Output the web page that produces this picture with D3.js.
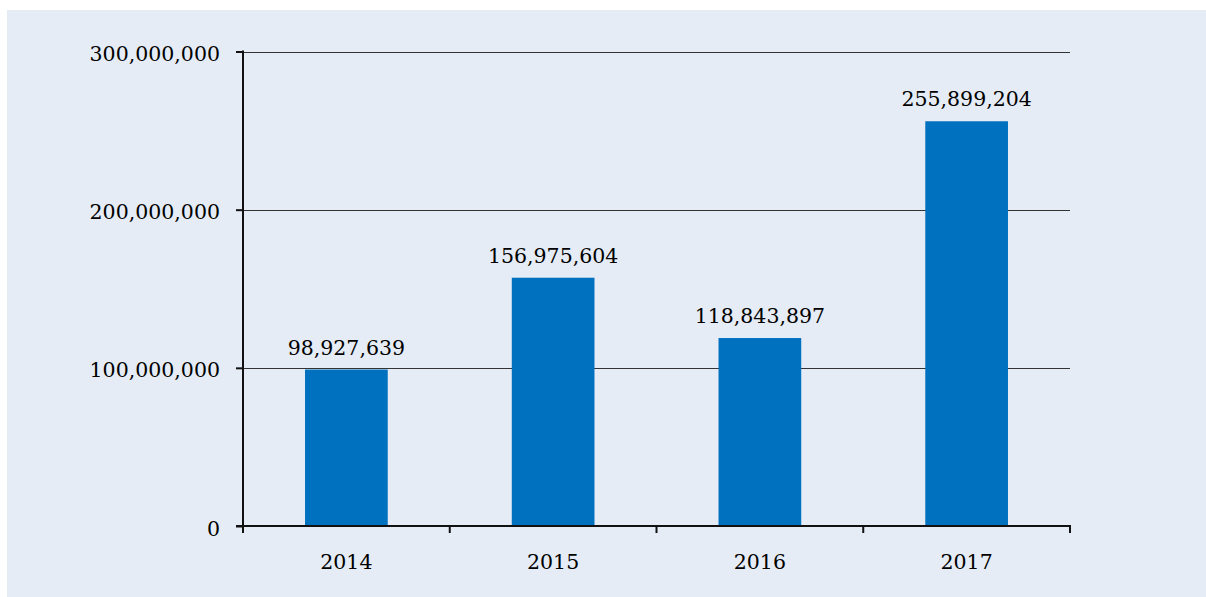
<!DOCTYPE html>
<html lang="en">
<head>
    <meta charset="UTF-8">
    <title>Chart</title>
    <script src="https://cdn.jsdelivr.net/npm/d3@7/dist/d3.min.js"></script>
    <style>
        body {
            margin: 0;
            padding: 0;
            background: #fff;
        }
        text {
            font-family: "DejaVu Serif", Georgia, serif;
            font-size: 20.5px;
            fill: #000;
        }
    </style>
</head>
<body>
<svg width="1206" height="597"></svg>
<script>
    // data
    var years = ['2014', '2015', '2016', '2017'];
    var values = [98927639, 156975604, 118843897, 255899204];
    var yTicks = [0, 100000000, 200000000, 300000000];

    var svg = d3.select('svg');
    var plotLeft = 243, plotRight = 1070, plotTop = 51.5, plotBottom = 526;

    svg.append('rect')
        .attr('x', 7).attr('y', 10)
        .attr('width', 1199).attr('height', 587)
        .attr('fill', '#e5ecf5');

    var x = d3.scaleBand().domain(years).range([plotLeft, plotRight]).padding(0);
    var y = d3.scaleLinear().domain([0, 300000000]).range([plotBottom, plotTop]);
    var fmt = d3.format(',');

    // gridlines
    svg.selectAll('.grid').data(yTicks.slice(1)).enter().append('line')
        .attr('x1', plotLeft).attr('x2', plotRight)
        .attr('y1', function (d) { return Math.round(y(d)) + 0.5; })
        .attr('y2', function (d) { return Math.round(y(d)) + 0.5; })
        .attr('stroke', '#333').attr('stroke-width', 1.2);

    // bars
    var bw = x.bandwidth() * 0.4;
    svg.selectAll('.bar').data(values).enter().append('rect')
        .attr('x', function (d, i) { return x(years[i]) + x.bandwidth() / 2 - bw / 2; })
        .attr('y', function (d) { return y(d); })
        .attr('width', bw)
        .attr('height', function (d) { return plotBottom - y(d); })
        .attr('fill', '#0071bf');

    // value labels
    svg.selectAll('.lbl').data(values).enter().append('text')
        .attr('x', function (d, i) { return x(years[i]) + x.bandwidth() / 2; })
        .attr('y', function (d) { return y(d) - 15; })
        .attr('text-anchor', 'middle')
        .text(function (d) { return fmt(d); });

    // y axis
    var yAxis = d3.axisLeft(y).tickValues(yTicks).tickSize(7).tickPadding(16)
        .tickFormat(function (d) { return fmt(d); });
    var gy = svg.append('g').attr('transform', 'translate(' + plotLeft + ',0)').call(yAxis);
    gy.select('.domain').remove();
    gy.selectAll('line').attr('stroke', '#111').attr('stroke-width', 2);
    gy.selectAll('text').attr('font-family', null).attr('font-size', null).attr('fill', null)
        .attr('dy', '0.44em');
    svg.append('line')
        .attr('x1', plotLeft).attr('x2', plotLeft)
        .attr('y1', plotTop - 1).attr('y2', plotBottom + 7)
        .attr('stroke', '#111').attr('stroke-width', 2);

    // x axis
    svg.append('line')
        .attr('x1', plotLeft - 7).attr('x2', plotRight + 1)
        .attr('y1', plotBottom).attr('y2', plotBottom)
        .attr('stroke', '#111').attr('stroke-width', 2);
    var bounds = years.map(function (d) { return x(d); }).concat([plotRight]);
    svg.selectAll('.xtick').data(bounds).enter().append('line')
        .attr('x1', function (d) { return d; }).attr('x2', function (d) { return d; })
        .attr('y1', plotBottom).attr('y2', plotBottom + 7)
        .attr('stroke', '#111').attr('stroke-width', 2);
    svg.selectAll('.xlbl').data(years).enter().append('text')
        .attr('x', function (d) { return x(d) + x.bandwidth() / 2; })
        .attr('y', 569)
        .attr('text-anchor', 'middle')
        .text(function (d) { return d; });
</script>
</body>
</html>
